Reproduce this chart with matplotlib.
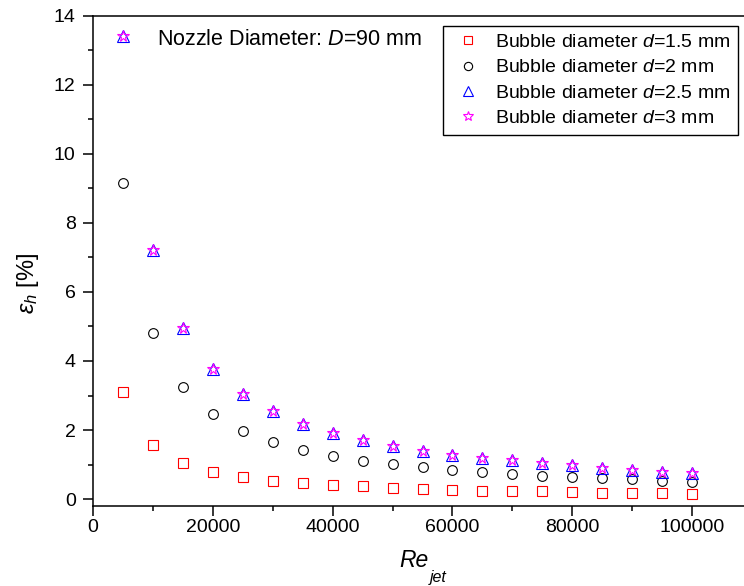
import numpy as np
import matplotlib
matplotlib.use('Agg')
import matplotlib.pyplot as plt

# -------------------------
# 字体
plt.rcParams['font.family'] = ['Liberation Sans', 'DejaVu Sans']
plt.rcParams['mathtext.fontset'] = 'custom'
plt.rcParams['mathtext.rm'] = 'Liberation Sans'
plt.rcParams['mathtext.it'] = 'Liberation Sans:italic'

# -------------------------
# 数据
re_jet = [5000, 10000, 15000, 20000, 25000, 30000, 35000, 40000, 45000, 50000,
          55000, 60000, 65000, 70000, 75000, 80000, 85000, 90000, 95000, 100000]
eps_d15 = [3.11, 1.57, 1.06, 0.79, 0.65, 0.54, 0.46, 0.40, 0.37, 0.33,
           0.30, 0.27, 0.25, 0.23, 0.23, 0.21, 0.19, 0.18, 0.17, 0.16]
eps_d2 = [9.15, 4.80, 3.25, 2.46, 1.98, 1.66, 1.42, 1.25, 1.11, 1.01,
          0.92, 0.84, 0.78, 0.72, 0.68, 0.64, 0.60, 0.57, 0.53, 0.50]
eps_d25 = [13.42, 7.22, 4.96, 3.77, 3.04, 2.55, 2.17, 1.91, 1.71, 1.54,
           1.39, 1.28, 1.20, 1.12, 1.04, 0.98, 0.91, 0.85, 0.80, 0.76]
eps_d3 = [13.42, 7.22, 4.96, 3.77, 3.04, 2.55, 2.17, 1.91, 1.71, 1.54,
          1.39, 1.28, 1.20, 1.12, 1.04, 0.98, 0.91, 0.85, 0.80, 0.76]
labels = ['Bubble diameter $d$=1.5 mm', 'Bubble diameter $d$=2 mm',
          'Bubble diameter $d$=2.5 mm', 'Bubble diameter $d$=3 mm']

# -------------------------
fig = plt.figure(figsize=(7.44, 5.86), dpi=100)
ax = fig.add_axes([0.125, 0.137, 0.8858, 0.8365])

ms = 7
mew = 0.8
ax.plot(re_jet, eps_d15, 's', ms=ms, mfc='none', mec='#FF0000', mew=mew, label=labels[0])
ax.plot(re_jet, eps_d2, 'o', ms=ms, mfc='none', mec='black', mew=mew, label=labels[1])
ax.plot(re_jet, eps_d25, '^', ms=ms + 1, mfc='none', mec='#0000FF', mew=mew, label=labels[2])
ax.plot(re_jet, eps_d3, '*', ms=ms + 1.5, mfc='none', mec='#FF00FF', mew=mew, label=labels[3])

ax.set_xlim(0, 110000)
ax.set_ylim(-0.19, 14)
ax.set_xticks(np.arange(0, 100001, 20000))
ax.set_xticks(np.arange(0, 110001, 10000), minor=True)
ax.set_yticks(np.arange(0, 15, 2))
ax.set_yticks(np.arange(0, 15, 1), minor=True)

ax.tick_params(which='major', direction='out', length=7, width=1.1, labelsize=14)
ax.tick_params(which='minor', direction='out', length=3.8, width=1.1)
ax.tick_params(axis='y', which='major', pad=5.5)
ax.tick_params(axis='x', which='major', pad=2.5)
for s in ax.spines.values():
    s.set_linewidth(1.1)

# 坐标轴标题
fig.text(399 / 744, 1 - 566.7 / 586, 'Re', fontsize=16.5, style='italic',
         ha='left', va='baseline')
fig.text(430 / 744, 1 - 582 / 586, 'jet', fontsize=11.5, style='italic',
         ha='left', va='baseline')
fig.text(28 / 744, 1 - 283.5 / 586, r'$\varepsilon_h$ [%]', fontsize=17,
         rotation=90, ha='center', va='center')

ax.text(10700, 13.3, 'Nozzle Diameter: $D$=90 mm', fontsize=15.5, va='center')

leg = ax.legend(loc='upper left', bbox_to_anchor=(442.7 / 744, 1 - 26 / 586),
                bbox_transform=fig.transFigure, borderaxespad=0,
                fontsize=14, frameon=True, fancybox=False, framealpha=1,
                edgecolor='black', handlelength=1.84, handletextpad=0.46,
                labelspacing=0.4, borderpad=0.38, markerscale=0.85)
leg.get_frame().set_linewidth(1.0)

fig.savefig('out.png', dpi=100)
